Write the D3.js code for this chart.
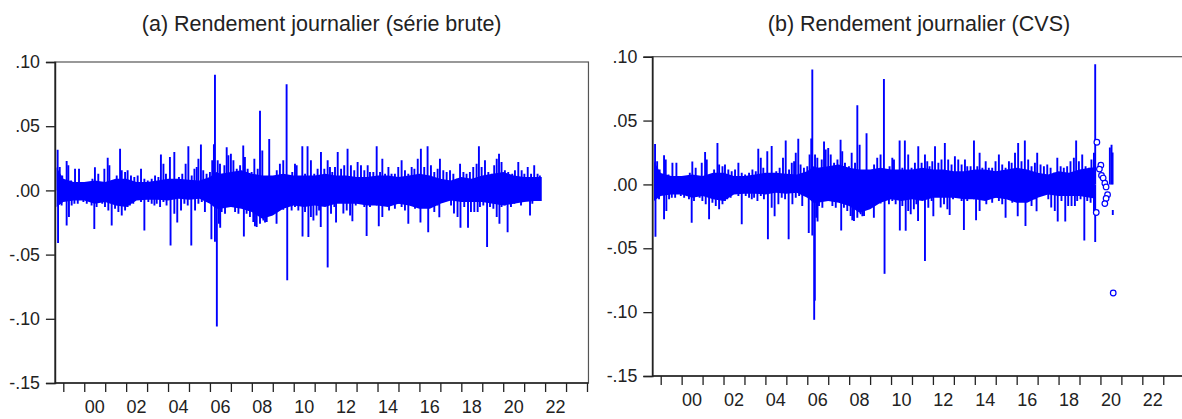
<!DOCTYPE html>
<html>
<head>
<meta charset="utf-8">
<script src="https://d3js.org/d3.v7.min.js"></script>
<style>
  body { margin: 0; background: #fff; }
  svg { display: block; font-family: "Liberation Sans", Arial, sans-serif; }
</style>
</head>
<body>
<svg id="chart" width="1182" height="419"></svg>
<script>
// dense core of the daily series: [year, upper edge, lower edge]
var core = [
  [1998.68, 0.018, -0.013], [1999.0, 0.009, -0.009], [1999.5, 0.0065, -0.0078],
  [2000.0, 0.0065, -0.0078], [2000.5, 0.0078, -0.0104], [2001.0, 0.0065, -0.0091],
  [2001.5, 0.0091, -0.0117], [2002.0, 0.0091, -0.013], [2002.5, 0.0065, -0.0078],
  [2003.0, 0.0065, -0.0073], [2003.5, 0.0078, -0.0073], [2004.0, 0.0091, -0.0078],
  [2004.5, 0.0091, -0.0065], [2005.0, 0.0083, -0.0073], [2005.5, 0.0078, -0.0065],
  [2006.0, 0.0104, -0.0104], [2006.3, 0.0143, -0.0143], [2006.5, 0.013, -0.0143],
  [2007.0, 0.0143, -0.013], [2007.5, 0.0156, -0.0143], [2008.0, 0.013, -0.0169],
  [2008.5, 0.0117, -0.0221], [2009.0, 0.0117, -0.0195], [2009.5, 0.013, -0.0143],
  [2010.0, 0.0117, -0.0117], [2010.5, 0.0117, -0.013], [2011.0, 0.0117, -0.0117],
  [2011.5, 0.013, -0.013], [2012.0, 0.0117, -0.0104], [2012.5, 0.0117, -0.0104],
  [2013.0, 0.0104, -0.0104], [2013.5, 0.0104, -0.0117], [2014.0, 0.0117, -0.0117],
  [2014.5, 0.0117, -0.013], [2015.0, 0.0104, -0.0104], [2015.5, 0.0117, -0.0117],
  [2016.0, 0.013, -0.0143], [2016.5, 0.0117, -0.0143], [2017.0, 0.0091, -0.0104],
  [2017.5, 0.0078, -0.0078], [2018.0, 0.0104, -0.0091], [2018.5, 0.0091, -0.0091],
  [2019.0, 0.0117, -0.0091], [2019.5, 0.013, -0.0104], [2019.72, 0.0135, -0.011],
  [2020.0, 0.0143, -0.0117], [2020.5, 0.0117, -0.0104], [2021.0, 0.0104, -0.0091],
  [2021.5, 0.0104, -0.0083], [2021.84, 0.0104, -0.0083]
];

// daily moves sticking out of the core: [year, return]
var spikesUp = [
  [1998.73, 0.0317], [1998.83, 0.0182], [1998.95, 0.0117], [1999.16, 0.0228], [1999.24, 0.0195],
  [1999.37, 0.0078], [1999.56, 0.0169], [1999.75, 0.0169], [2000.00, 0.0052], [2000.13, 0.0065],
  [2000.28, 0.0065], [2000.39, 0.0091], [2000.51, 0.018], [2000.67, 0.013], [2000.83, 0.0065],
  [2000.96, 0.0169], [2001.12, 0.0254], [2001.20, 0.0195], [2001.39, 0.0078], [2001.55, 0.0117],
  [2001.71, 0.0325], [2001.79, 0.0156], [2001.95, 0.0143], [2002.07, 0.0156], [2002.23, 0.0117],
  [2002.39, 0.0104], [2002.55, 0.0117], [2002.71, 0.0169], [2002.87, 0.0091], [2003.03, 0.0078],
  [2003.22, 0.0091], [2003.38, 0.0117], [2003.54, 0.0104], [2003.66, 0.028], [2003.78, 0.0208],
  [2003.90, 0.013], [2004.09, 0.026], [2004.30, 0.030], [2004.52, 0.0104], [2004.68, 0.013],
  [2004.84, 0.0208], [2004.97, 0.0343], [2005.13, 0.0117], [2005.26, 0.0169], [2005.37, 0.0182],
  [2005.45, 0.0247], [2005.57, 0.0358], [2005.68, 0.0156], [2005.84, 0.013], [2006.00, 0.0143],
  [2006.11, 0.0234], [2006.19, 0.036], [2006.24, 0.090], [2006.37, 0.0234], [2006.48, 0.0208],
  [2006.69, 0.0195], [2006.80, 0.0337], [2006.88, 0.0273], [2007.00, 0.0286], [2007.12, 0.0234],
  [2007.28, 0.0169], [2007.44, 0.0195], [2007.59, 0.035], [2007.67, 0.026], [2007.80, 0.0169],
  [2007.99, 0.0143], [2008.12, 0.0247], [2008.28, 0.0169], [2008.39, 0.062], [2008.50, 0.031],
  [2008.83, 0.040], [2009.19, 0.0156], [2009.34, 0.0208], [2009.50, 0.0234], [2009.66, 0.0826],
  [2009.82, 0.0104], [2009.93, 0.0143], [2010.06, 0.0208], [2010.14, 0.0195], [2010.41, 0.0343],
  [2010.54, 0.013], [2010.66, 0.0343], [2010.82, 0.0234], [2010.98, 0.013], [2011.14, 0.0169],
  [2011.30, 0.0299], [2011.46, 0.0169], [2011.62, 0.0234], [2011.73, 0.0182], [2011.84, 0.0143],
  [2011.97, 0.0182], [2012.10, 0.0299], [2012.26, 0.0169], [2012.41, 0.0195], [2012.57, 0.0325],
  [2012.73, 0.0195], [2012.89, 0.0156], [2013.05, 0.0221], [2013.21, 0.0195], [2013.37, 0.0156],
  [2013.53, 0.0195], [2013.64, 0.0143], [2013.80, 0.0143], [2013.96, 0.0343], [2014.12, 0.0143],
  [2014.23, 0.0247], [2014.36, 0.013], [2014.52, 0.0182], [2014.67, 0.013], [2014.83, 0.013],
  [2014.99, 0.0182], [2015.15, 0.0234], [2015.31, 0.0156], [2015.47, 0.013], [2015.63, 0.0182],
  [2015.76, 0.0169], [2015.92, 0.0247], [2016.07, 0.0325], [2016.23, 0.0182], [2016.39, 0.0343],
  [2016.55, 0.0195], [2016.71, 0.0143], [2016.87, 0.0169], [2016.98, 0.0247], [2017.14, 0.0156],
  [2017.30, 0.0143], [2017.46, 0.0156], [2017.62, 0.013], [2017.78, 0.0091], [2017.94, 0.0208],
  [2018.10, 0.0143], [2018.25, 0.013], [2018.41, 0.0143], [2018.57, 0.0182], [2018.73, 0.0208],
  [2018.84, 0.0343], [2018.97, 0.0182], [2019.13, 0.0234], [2019.29, 0.0143], [2019.45, 0.013],
  [2019.57, 0.0195], [2019.69, 0.0247], [2019.80, 0.0286], [2019.92, 0.0221], [2020.08, 0.0156],
  [2020.24, 0.0143], [2020.43, 0.013], [2020.56, 0.0156], [2020.72, 0.0221], [2020.88, 0.0156],
  [2021.01, 0.013], [2021.17, 0.0182], [2021.33, 0.013], [2021.48, 0.0195], [2021.64, 0.013],
  [2021.75, 0.0117]
];

var spikesDown = [
  [1998.75, -0.041], [1998.92, -0.0117], [1999.16, -0.0273], [1999.27, -0.0208], [1999.40, -0.0117],
  [1999.53, -0.0104], [1999.69, -0.0104], [1999.96, -0.0091], [2000.12, -0.0104], [2000.28, -0.0091],
  [2000.35, -0.0117], [2000.48, -0.030], [2000.59, -0.013], [2000.75, -0.0091], [2000.86, -0.0104],
  [2000.99, -0.013], [2001.15, -0.0156], [2001.31, -0.0273], [2001.47, -0.0143], [2001.63, -0.0169],
  [2001.79, -0.0195], [2001.95, -0.0156], [2002.07, -0.013], [2002.18, -0.0117], [2002.34, -0.0104],
  [2002.71, -0.0091], [2002.87, -0.0312], [2003.06, -0.0091], [2003.22, -0.0104], [2003.35, -0.0117],
  [2003.46, -0.0104], [2003.62, -0.013], [2003.78, -0.0091], [2003.93, -0.0117], [2004.12, -0.043],
  [2004.30, -0.0182], [2004.44, -0.025], [2004.62, -0.0156], [2004.78, -0.0104], [2004.94, -0.0117],
  [2005.11, -0.043], [2005.29, -0.0156], [2005.45, -0.0104], [2005.61, -0.0091], [2005.76, -0.0169],
  [2005.92, -0.0091], [2006.07, -0.038], [2006.24, -0.040], [2006.33, -0.106], [2006.43, -0.026],
  [2006.49, -0.029], [2006.56, -0.0169], [2006.72, -0.0182], [2006.88, -0.013], [2007.04, -0.0104],
  [2007.20, -0.0169], [2007.36, -0.0182], [2007.48, -0.0117], [2007.62, -0.036], [2007.75, -0.0182],
  [2007.91, -0.0208], [2008.07, -0.0247], [2008.15, -0.028], [2008.23, -0.0286], [2008.39, -0.026],
  [2008.55, -0.0234], [2008.63, -0.025], [2008.71, -0.0247], [2008.87, -0.0169], [2009.03, -0.0182],
  [2009.18, -0.026], [2009.34, -0.0117], [2009.50, -0.015], [2009.69, -0.070], [2009.90, -0.0156],
  [2010.06, -0.013], [2010.14, -0.0104], [2010.22, -0.0156], [2010.42, -0.036], [2010.54, -0.0169],
  [2010.70, -0.0363], [2010.82, -0.0208], [2010.94, -0.0234], [2011.09, -0.0195], [2011.21, -0.0156],
  [2011.29, -0.0286], [2011.46, -0.0117], [2011.62, -0.060], [2011.78, -0.0182], [2011.94, -0.013],
  [2012.02, -0.025], [2012.37, -0.018], [2012.53, -0.0156], [2012.69, -0.0195], [2012.80, -0.024],
  [2012.96, -0.0117], [2013.21, -0.0091], [2013.37, -0.013], [2013.48, -0.0356], [2013.64, -0.013],
  [2013.80, -0.0104], [2013.96, -0.0117], [2014.06, -0.028], [2014.23, -0.0208], [2014.39, -0.0117],
  [2014.55, -0.0156], [2014.83, -0.0143], [2014.99, -0.0104], [2015.15, -0.013], [2015.31, -0.0156],
  [2015.47, -0.026], [2015.63, -0.0117], [2015.79, -0.0143], [2015.95, -0.0104], [2016.05, -0.025],
  [2016.42, -0.0325], [2016.58, -0.013], [2016.71, -0.0169], [2016.87, -0.0117], [2016.95, -0.021],
  [2017.51, -0.0117], [2017.65, -0.018], [2017.82, -0.0208], [2017.96, -0.029], [2018.14, -0.013],
  [2018.32, -0.029], [2018.46, -0.0169], [2018.62, -0.0169], [2018.78, -0.0169], [2018.89, -0.013],
  [2019.05, -0.0117], [2019.23, -0.044], [2019.37, -0.013], [2019.53, -0.0143], [2019.69, -0.0208],
  [2019.82, -0.026], [2019.92, -0.013], [2020.08, -0.0117], [2020.21, -0.0325], [2020.37, -0.013],
  [2020.53, -0.0104], [2020.85, -0.0117], [2021.28, -0.0195], [2021.39, -0.0104]
];

// seasonally adjusted series (b): same body up to 2019.72, then its own tail
var cvsEnd = 2019.72;
var cvsExtra = [[2006.36, -0.091], [2019.70, -0.023], [2019.75, 0.094], [2019.75, -0.045],
                [2020.45, 0.029], [2020.53, 0.031], [2020.58, 0.025]];
var cvsSegments = [[2020.59, -0.020, -0.024]];
var cvsMarkers = [
  [2019.83, 0.033], [2020.02, 0.015], [2019.95, 0.012], [2020.05, 0.007], [2020.13, 0.005],
  [2020.21, 0.001], [2020.27, -0.002], [2020.34, -0.008], [2020.27, -0.011], [2020.21, -0.015],
  [2019.80, -0.022], [2020.61, -0.085]
];

var yTicks = [-0.15, -0.10, -0.05, 0, 0.05, 0.10];
var yLabels = ["-.15", "-.10", "-.05", ".00", ".05", ".10"];
var yearTicks = d3.range(1999, 2025);
var yearLabels = ["00", "02", "04", "06", "08", "10", "12", "14", "16", "18", "20", "22"];

var blue = "#0000ff";
var svg = d3.select("#chart");

var panels = [
  {id: "a", title: "(a) Rendement journalier (série brute)", x0: 63.3, x1: 587, top: 62, bottom: 383},
  {id: "b", title: "(b) Rendement journalier (CVS)", x0: 660.7, x1: 1184.2, top: 56.7, bottom: 376}
];

panels.forEach(function(p) {
  var x = d3.scaleLinear().domain([1999, 2024]).range([p.x0, p.x1]);
  var y = d3.scaleLinear().domain([-0.15, 0.10]).range([p.bottom, p.top]);
  var left = x(1998.6), right = x(2024.07);

  var g = svg.append("g").attr("class", "panel-" + p.id);

  g.append("defs").append("clipPath").attr("id", "clip-" + p.id)
    .append("rect").attr("x", left).attr("y", p.top).attr("width", right - left).attr("height", p.bottom - p.top);

  var plot = g.append("g").attr("clip-path", "url(#clip-" + p.id + ")");

  var isB = p.id == "b";
  var keep = function(d) { return !isB || d[0] <= cvsEnd; };
  var coreData = core.filter(keep);
  var spikes = spikesUp.filter(keep).concat(spikesDown.filter(keep));
  if (isB) spikes = spikes.concat(cvsExtra);

  plot.append("path")
    .datum(coreData)
    .attr("fill", blue)
    .attr("d", d3.area().x(function(d) { return x(d[0]); })
      .y0(function(d) { return y(d[2]); }).y1(function(d) { return y(d[1]); }));

  plot.selectAll("line.spike").data(spikes).enter().append("line")
    .attr("class", "spike")
    .attr("x1", function(d) { return x(d[0]); }).attr("x2", function(d) { return x(d[0]); })
    .attr("y1", y(0)).attr("y2", function(d) { return y(d[1]); })
    .attr("stroke", blue).attr("stroke-width", 1.9);

  if (isB) {
    plot.selectAll("line.seg").data(cvsSegments).enter().append("line")
      .attr("x1", function(d) { return x(d[0]); }).attr("x2", function(d) { return x(d[0]); })
      .attr("y1", function(d) { return y(d[1]); }).attr("y2", function(d) { return y(d[2]); })
      .attr("stroke", blue).attr("stroke-width", 1.9);
    plot.selectAll("circle").data(cvsMarkers).enter().append("circle")
      .attr("cx", function(d) { return x(d[0]); }).attr("cy", function(d) { return y(d[1]); })
      .attr("r", 2.8).attr("fill", "#fff").attr("stroke", blue).attr("stroke-width", 1.2);
  }

  // frame
  g.append("rect").attr("x", left).attr("y", p.top).attr("width", right - left).attr("height", p.bottom - p.top)
    .attr("fill", "none").attr("stroke", "#555").attr("stroke-width", 1.2);

  // y axis
  var ya = g.append("g").attr("transform", "translate(" + left + ",0)")
    .call(d3.axisLeft(y).tickValues(yTicks).tickSize(9).tickPadding(6)
      .tickFormat(function(d, i) { return yLabels[i]; }));
  ya.select(".domain").attr("stroke", "#222").attr("stroke-width", 1.6);
  ya.selectAll(".tick line").attr("stroke", "#222").attr("stroke-width", 1.3);
  ya.selectAll("text").attr("fill", "#222").style("font-size", "17.8px")
    .style("font-family", "'Liberation Sans', Arial, sans-serif");

  // x axis: yearly ticks, labels every two years centred in the year
  var xa = g.append("g").attr("transform", "translate(0," + p.bottom + ")")
    .call(d3.axisBottom(x).tickValues(yearTicks).tickSize(9).tickFormat(""));
  xa.select(".domain").attr("d", "M" + left + ",0H" + right).attr("stroke", "#222").attr("stroke-width", 1.6);
  xa.selectAll(".tick line").attr("stroke", "#222").attr("stroke-width", 1.3);

  g.selectAll("text.xl").data(yearLabels).enter().append("text")
    .attr("class", "xl")
    .attr("x", function(d) { return x(2000 + (+d) + 0.5); })
    .attr("y", p.bottom + 30)
    .attr("text-anchor", "middle")
    .attr("fill", "#222").style("font-size", "18px")
    .text(function(d) { return d; });

  g.append("text")
    .attr("x", (left + right) / 2).attr("y", 31)
    .attr("text-anchor", "middle").attr("fill", "#222").style("font-size", "21.5px")
    .text(p.title);
});
</script>
</body>
</html>
